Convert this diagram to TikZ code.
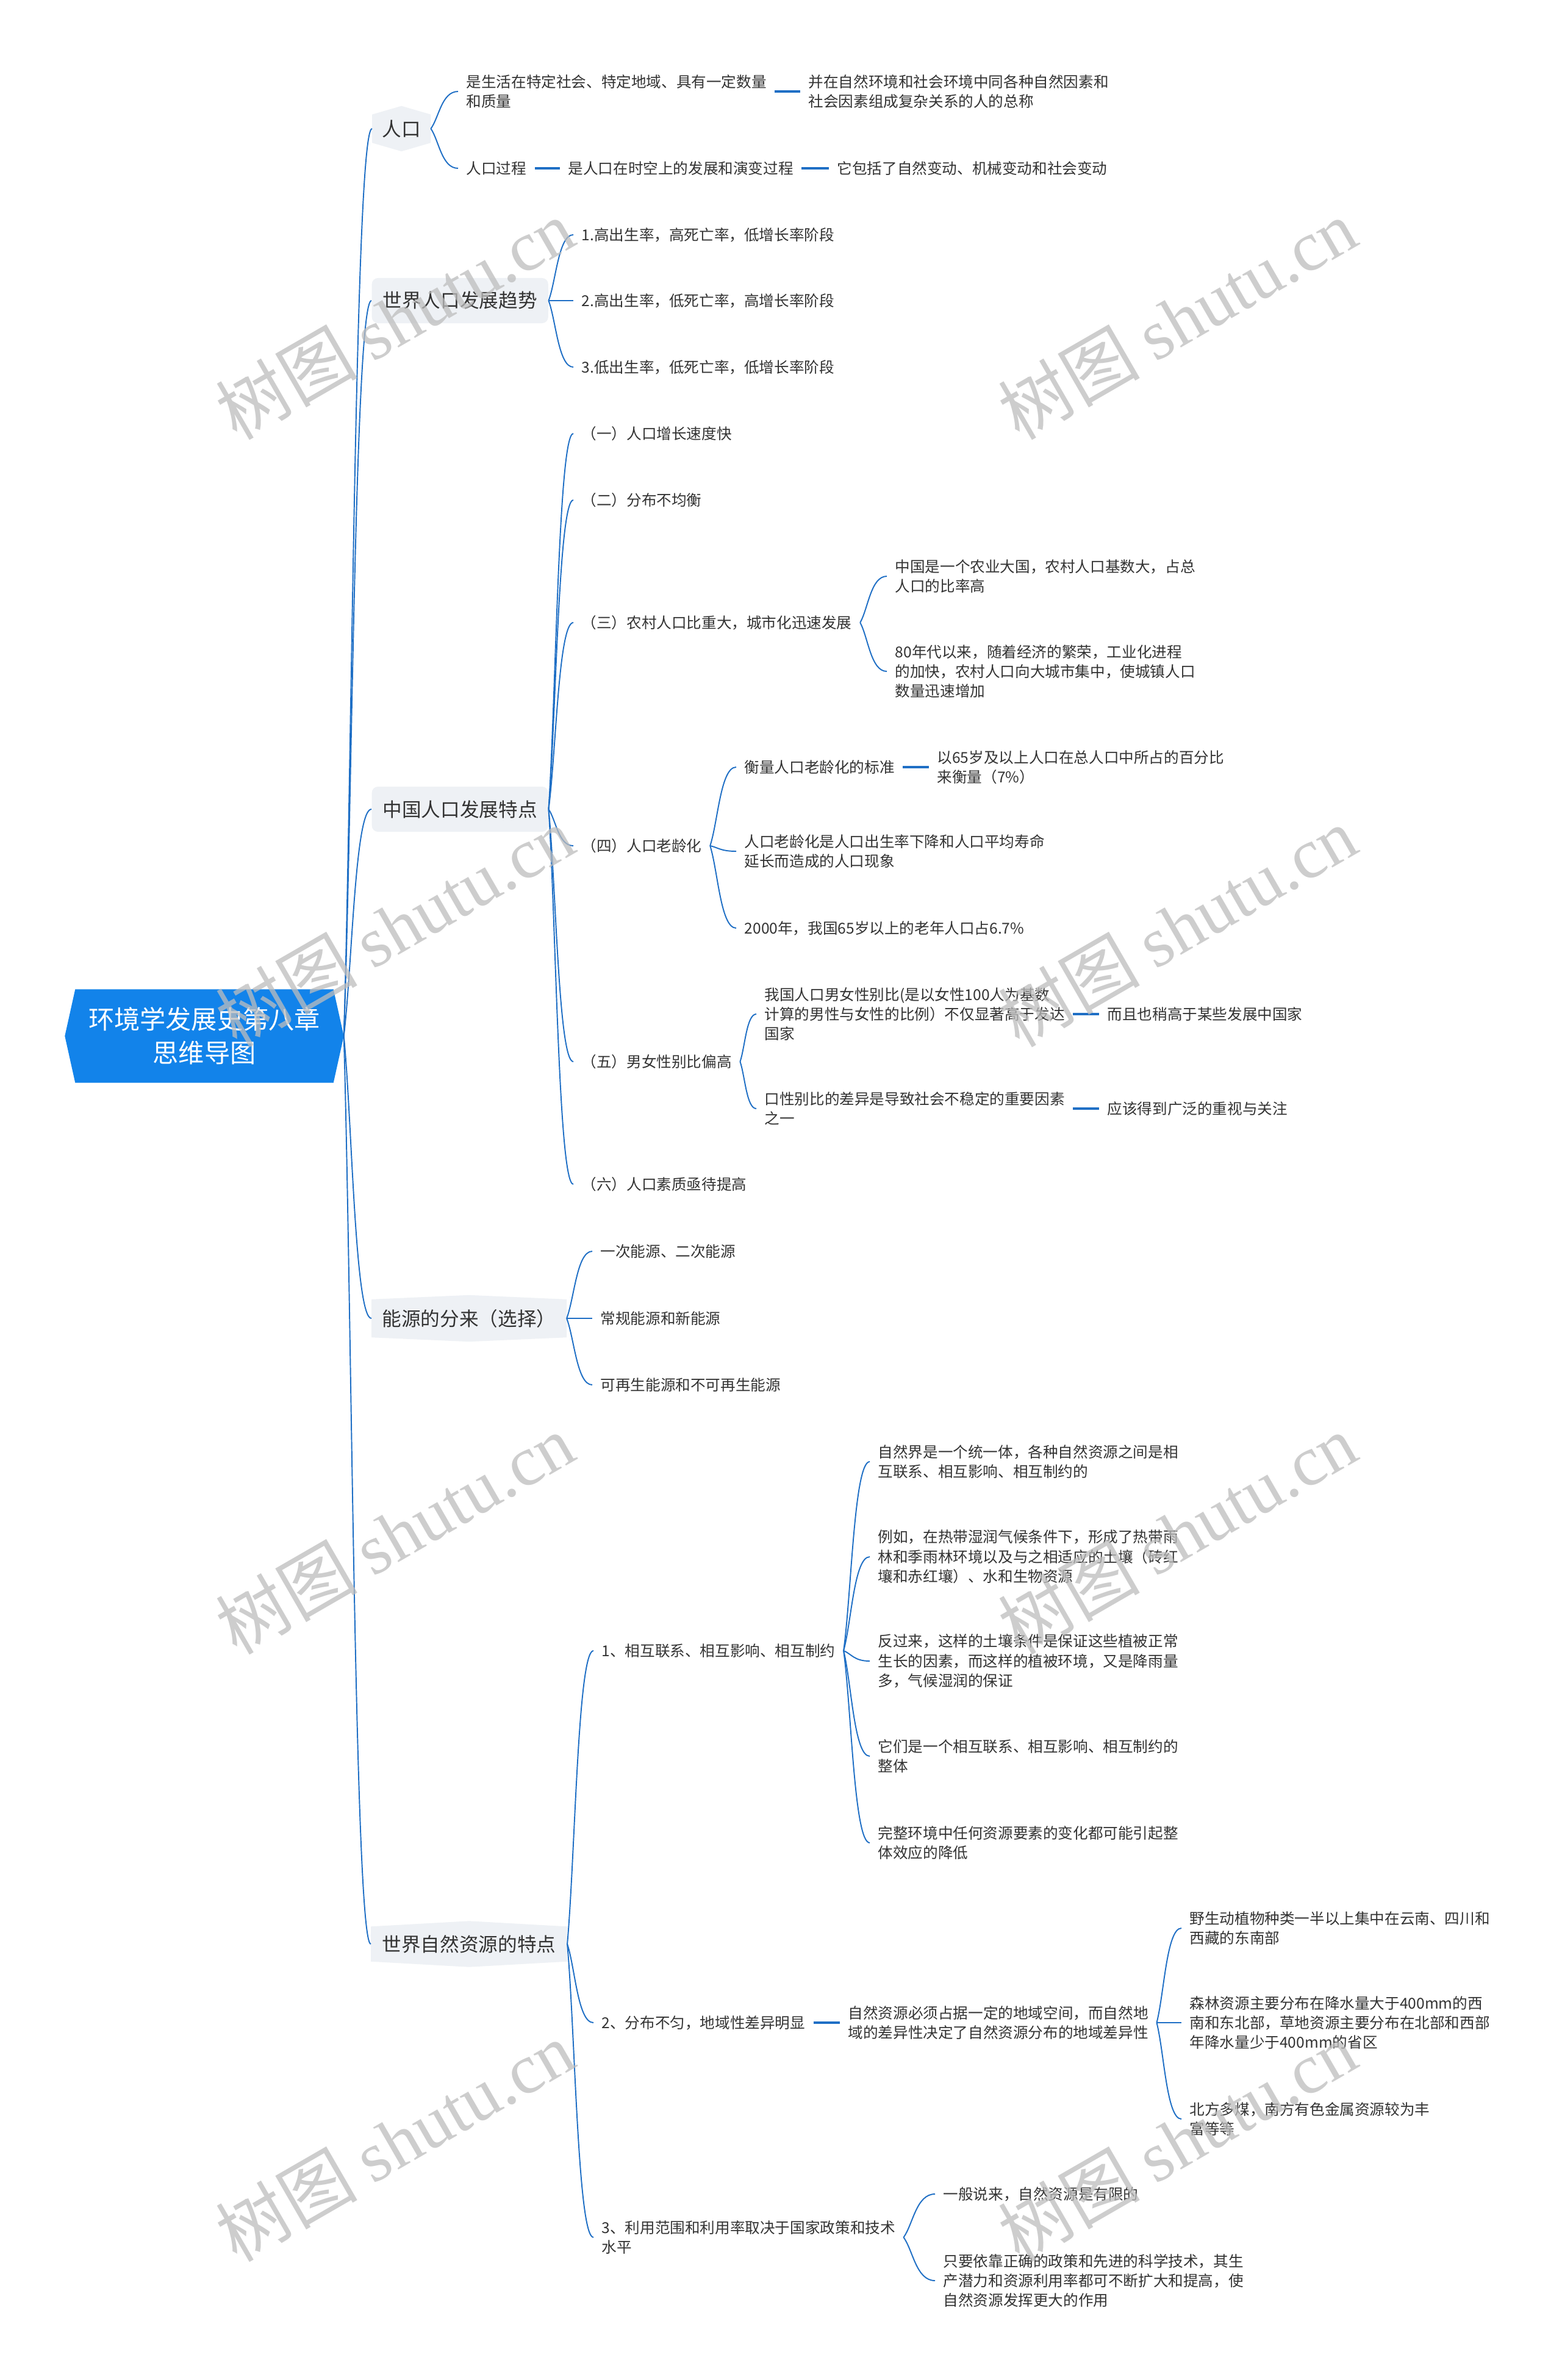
\documentclass[tikz,border=0pt]{standalone}
\usepackage{fontspec}
\setmainfont{Noto Sans CJK SC}
\newfontfamily\markserif{Liberation Serif}
\usepackage{tikz}
\usetikzlibrary{calc, backgrounds}
\definecolor{mBlue}{HTML}{1F6FC5}
\definecolor{mRoot}{HTML}{1283EA}
\definecolor{mBox}{HTML}{EEF1F5}
\definecolor{mText}{HTML}{333333}
\definecolor{mMark}{HTML}{BDBDBD}

\newcommand{\curvelink}[2]{%
  \draw[link] let \p1=(#1.east), \p2=(#2.west) in
    (\p1) .. controls ({\x1+0.3*(\x2-\x1)},{\y1+0.3*(\y2-\y1)}) and ({\x1+0.4*(\x2-\x1)},\y2) .. (\p2);}

\begin{document}
\begin{tikzpicture}[
    link/.style={draw=mBlue, line width=0.55pt},
    bar/.style={draw=mBlue, line width=1pt},
    t/.style={anchor=west, inner xsep=0.13cm, inner ysep=0.04cm, align=left,
      text=mText, font=\fontsize{7}{9.2}\selectfont},
    l1/.style={anchor=west, inner xsep=0.18cm, inner ysep=0, text=mText,
      font=\fontsize{9}{11}\selectfont},
    l1r/.style={l1, fill=mBox, rounded corners=0.1cm, minimum height=0.74cm},
    l1h/.style={l1, minimum height=0.56cm},
    wm/.style={rotate=30, text=mMark, opacity=0.75, font=\fontsize{33}{33}\selectfont}]
  \useasboundingbox (0,0) rectangle (25.60,-39.03);

  % root
  \node[text=white, font=\fontsize{12}{15.6}\selectfont, align=center,
    minimum width=4.56cm, minimum height=1.52cm, inner sep=0] (root) at (3.35,-16.99)
    {环境学发展史第八章\\思维导图};

  % main branches
  \node[l1h, minimum width=0.95cm, minimum height=0.45cm, inner xsep=0] (pop) at (6.10,-2.11) {人口};
  \node[l1r] (trend) at (6.09,-4.93) {世界人口发展趋势};
  \node[l1r] (china) at (6.09,-13.27) {中国人口发展特点};
  \node[l1h, inner xsep=0.17cm, minimum height=0.61cm] (energy) at (6.09,-21.62) {能源的分来（选择）};
  \node[l1h] (res) at (6.08,-31.88) {世界自然资源的特点};

  % 人口
  \node[t] (p1) at (7.51,-1.50) {是生活在特定社会、特定地域、具有一定数量\\和质量};
  \node[t] (p1a) at (13.12,-1.50) {并在自然环境和社会环境中同各种自然因素和\\社会因素组成复杂关系的人的总称};
  \node[t] (p2) at (7.51,-2.76) {人口过程};
  \node[t] (p2a) at (9.18,-2.76) {是人口在时空上的发展和演变过程};
  \node[t] (p2b) at (13.59,-2.76) {它包括了自然变动、机械变动和社会变动};

  % 世界人口发展趋势
  \foreach \i/\s/\y in {1/{1.高出生率，高死亡率，低增长率阶段}/-3.85,
                        2/{2.高出生率，低死亡率，高增长率阶段}/-4.93,
                        3/{3.低出生率，低死亡率，低增长率阶段}/-6.02}
    \node[t] (b\i) at (9.40,\y) {\s};

  % 中国人口发展特点
  \node[t] (c1) at (9.40,-7.11) {（一）人口增长速度快};
  \node[t] (c2) at (9.40,-8.20) {（二）分布不均衡};
  \node[t] (c3) at (9.40,-10.21) {（三）农村人口比重大，城市化迅速发展};
  \node[t] (c3a) at (14.54,-9.45) {中国是一个农业大国，农村人口基数大，占总\\人口的比率高};
  \node[t] (c3b) at (14.54,-11.01) {80年代以来，随着经济的繁荣，工业化进程\\的加快，农村人口向大城市集中，使城镇人口\\数量迅速增加};
  \node[t] (c4) at (9.40,-13.87) {（四）人口老龄化};
  \node[t] (c4a) at (12.07,-12.58) {衡量人口老龄化的标准};
  \node[t] (c4a1) at (15.23,-12.58) {以65岁及以上人口在总人口中所占的百分比\\来衡量（7\%）};
  \node[t] (c4b) at (12.07,-13.96) {人口老龄化是人口出生率下降和人口平均寿命\\延长而造成的人口现象};
  \node[t] (c4c) at (12.07,-15.22) {2000年，我国65岁以上的老年人口占6.7\%};
  \node[t] (c5) at (9.40,-17.41) {（五）男女性别比偏高};
  \node[t] (c5a) at (12.40,-16.63) {我国人口男女性别比(是以女性100人为基数\\计算的男性与女性的比例）不仅显著高于发达\\国家};
  \node[t] (c5a1) at (18.02,-16.63) {而且也稍高于某些发展中国家};
  \node[t] (c5b) at (12.40,-18.18) {口性别比的差异是导致社会不稳定的重要因素\\之一};
  \node[t] (c5b1) at (18.02,-18.18) {应该得到广泛的重视与关注};
  \node[t] (c6) at (9.40,-19.42) {（六）人口素质亟待提高};

  % 能源
  \node[t] (d1) at (9.71,-20.52) {一次能源、二次能源};
  \node[t] (d2) at (9.71,-21.62) {常规能源和新能源};
  \node[t] (d3) at (9.71,-22.71) {可再生能源和不可再生能源};

  % 世界自然资源的特点
  \node[t] (e1) at (9.73,-27.07) {1、相互联系、相互影响、相互制约};
  \node[t] (e1a) at (14.26,-23.97) {自然界是一个统一体，各种自然资源之间是相\\互联系、相互影响、相互制约的};
  \node[t] (e1b) at (14.26,-25.53) {例如，在热带湿润气候条件下，形成了热带雨\\林和季雨林环境以及与之相适应的土壤（砖红\\壤和赤红壤）、水和生物资源};
  \node[t] (e1c) at (14.26,-27.24) {反过来，这样的土壤条件是保证这些植被正常\\生长的因素，而这样的植被环境，又是降雨量\\多，气候湿润的保证};
  \node[t] (e1d) at (14.26,-28.80) {它们是一个相互联系、相互影响、相互制约的\\整体};
  \node[t] (e1e) at (14.26,-30.22) {完整环境中任何资源要素的变化都可能引起整\\体效应的降低};
  \node[t] (e2) at (9.73,-33.17) {2、分布不匀，地域性差异明显};
  \node[t] (e2a) at (13.77,-33.17) {自然资源必须占据一定的地域空间，而自然地\\域的差异性决定了自然资源分布的地域差异性};
  \node[t] (e2a1) at (19.37,-31.62) {野生动植物种类一半以上集中在云南、四川和\\西藏的东南部};
  \node[t] (e2a2) at (19.37,-33.17) {森林资源主要分布在降水量大于400mm的西\\南和东北部，草地资源主要分布在北部和西部\\年降水量少于400mm的省区};
  \node[t] (e2a3) at (19.37,-34.75) {北方多煤，南方有色金属资源较为丰\\富等等};
  \node[t] (e3) at (9.73,-36.69) {3、利用范围和利用率取决于国家政策和技术\\水平};
  \node[t] (e3a) at (15.33,-35.98) {一般说来，自然资源是有限的};
  \node[t] (e3b) at (15.33,-37.40) {只要依靠正确的政策和先进的科学技术，其生\\产潜力和资源利用率都可不断扩大和提高，使\\自然资源发挥更大的作用};

  % curved links
  \foreach \a/\b in {root/pop, root/trend, root/china, root/energy, root/res,
      pop/p1, pop/p2, trend/b1, trend/b2, trend/b3,
      china/c1, china/c2, china/c3, china/c4, china/c5, china/c6,
      c3/c3a, c3/c3b, c4/c4a, c4/c4b, c4/c4c, c5/c5a, c5/c5b,
      energy/d1, energy/d2, energy/d3, res/e1, res/e2, res/e3,
      e1/e1a, e1/e1b, e1/e1c, e1/e1d, e1/e1e,
      e2a/e2a1, e2a/e2a2, e2a/e2a3, e3/e3a, e3/e3b}
    \curvelink{\a}{\b};

  % straight links
  \foreach \a/\b in {p1/p1a, p2/p2a, p2a/p2b, c4a/c4a1, c5a/c5a1, c5b/c5b1, e2/e2a}
    \draw[bar] (\a.east) -- (\b.west);

  % shapes behind
  \begin{scope}[on background layer]
    \fill[white] (0,0) rectangle (25.60,-39.03);
    \fill[mRoot] (root.west) -- ([xshift=0.17cm]root.north west) -- ([xshift=-0.17cm]root.north east)
      -- (root.east) -- ([xshift=-0.17cm]root.south east) -- ([xshift=0.17cm]root.south west) -- cycle;
    \foreach \n/\d in {pop/0.14, energy/0.07, res/0.09}
      \fill[mBox] (\n.north west) -- ([yshift=\d cm]\n.north) -- (\n.north east)
        -- (\n.south east) -- ([yshift=-\d cm]\n.south) -- (\n.south west) -- cycle;
  \end{scope}

  % watermarks
  \foreach \wx/\wy [count=\k] in {6.47/-5.23, 19.30/-5.23, 6.47/-15.19, 19.30/-15.19,
      6.47/-25.15, 19.30/-25.15, 6.47/-35.11, 19.30/-35.11}
    \node[wm] (wm\k) at (\wx,\wy) {树图 {\markserif shutu.cn}};
\end{tikzpicture}
\end{document}
